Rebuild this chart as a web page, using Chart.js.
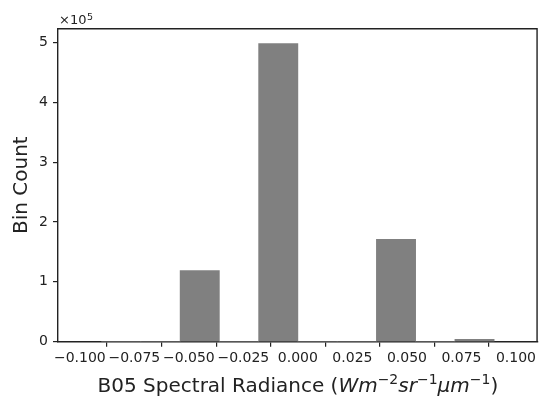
<!DOCTYPE html>
<html>
<head>
<meta charset="utf-8">
<script src="https://cdn.jsdelivr.net/npm/chart.js@4.4.0/dist/chart.umd.min.js"></script>
<style>
  html, body { margin: 0; padding: 0; background: #fff; }
</style>
</head>
<body>
<canvas id="hist" width="539" height="398"></canvas>
<script>
// Histogram bins (centres, width 0.018) and their counts
const binCenters = [-0.081, -0.063, -0.045, -0.027, -0.009, 0.009, 0.027, 0.045, 0.063, 0.081];
const binCounts = [0, 0, 119000, 0, 498000, 0, 0, 171000, 0, 4000];

// Axis limits / ticks / labels
const xRange = [-0.11, 0.11];
const xTicks = [-0.1, -0.075, -0.05, -0.025, 0, 0.025, 0.05, 0.075, 0.1];
const yMax = 522900;
const yTicks = [0, 100000, 200000, 300000, 400000, 500000];
const yTitle = 'Bin Count';
const xTitleParts = [
  { t: 'B05 Spectral Radiance (', style: '' },
  { t: 'Wm', style: 'italic' },
  { t: '\u22122', style: 'sup' },
  { t: 'sr', style: 'italic' },
  { t: '\u22121', style: 'sup' },
  { t: '\u03bcm', style: 'italic' },
  { t: '\u22121', style: 'sup' },
  { t: ')', style: '' }
];

const FONT = "'DejaVu Sans', sans-serif";
const INK = '#222';

// Draws the top/right frame, the x title with math and the x10^5 offset text
const extras = {
  id: 'extras',
  afterDraw(chart) {
    const { ctx, chartArea: a } = chart;
    ctx.save();
    ctx.strokeStyle = INK;
    ctx.lineWidth = 1.4;
    ctx.beginPath();
    ctx.moveTo(a.left, a.top);
    ctx.lineTo(a.right - 0.7, a.top);
    ctx.lineTo(a.right - 0.7, a.bottom);
    ctx.stroke();

    ctx.fillStyle = INK;
    ctx.textBaseline = 'alphabetic';
    ctx.textAlign = 'left';

    // x title
    const fontFor = s => s === 'italic' ? 'italic 20px ' + FONT : s === 'sup' ? '14px ' + FONT : '20px ' + FONT;
    let total = 0;
    xTitleParts.forEach(p => { ctx.font = fontFor(p.style); total += ctx.measureText(p.t).width; });
    let x = (a.left + a.right) / 2 - total / 2;
    const base = 391.5;
    xTitleParts.forEach(p => {
      ctx.font = fontFor(p.style);
      ctx.fillText(p.t, x, p.style === 'sup' ? base - 8 : base);
      x += ctx.measureText(p.t).width;
    });

    // offset text
    ctx.font = '13px ' + FONT;
    ctx.fillText('\u00d710', a.left + 1, 24);
    const w = ctx.measureText('\u00d710').width;
    ctx.font = '9.5px ' + FONT;
    ctx.fillText('5', a.left + 1 + w + 0.5, 19.5);
    ctx.restore();
  }
};

const ctx = document.getElementById('hist').getContext('2d');
const histChart = new Chart(ctx, {
  type: 'bar',
  data: {
    datasets: [{
      data: binCenters.map((c, i) => ({ x: c, y: binCounts[i] })),
      backgroundColor: '#808080',
      borderWidth: 0,
      barPercentage: 1,
      categoryPercentage: 1
    }]
  },
  options: {
    responsive: false,
    animation: false,
    layout: { padding: { left: 10, top: 28.7, right: 0, bottom: 0 } },
    plugins: { legend: { display: false }, tooltip: { enabled: false } },
    scales: {
      x: {
        type: 'linear',
        bounds: 'data',
        offset: false,
        min: xRange[0],
        max: xRange[1],
        grid: { display: true, drawOnChartArea: false, drawTicks: true, tickLength: 5, color: INK, lineWidth: 1.2 },
        border: { display: true, color: INK, width: 1.4 },
        ticks: {
          autoSkip: false,
          maxRotation: 0,
          padding: 3,
          color: INK,
          font: { family: FONT, size: 14 },
          callback: v => {
            const s = Math.abs(v).toFixed(3);
            return v < -1e-9 ? '\u2212' + s : s;
          }
        },
        afterBuildTicks: scale => { scale.ticks = xTicks.map(v => ({ value: v })); },
        afterFit: scale => { scale.height = 56.3; }
      },
      y: {
        bounds: 'data',
        min: 0,
        max: yMax,
        grid: { display: true, drawOnChartArea: false, drawTicks: true, tickLength: 5, color: INK, lineWidth: 1.2 },
        border: { display: true, color: INK, width: 1.4 },
        ticks: {
          padding: 5,
          color: INK,
          font: { family: FONT, size: 14 },
          callback: v => String(Math.round(v / 1e5))
        },
        afterBuildTicks: scale => { scale.ticks = yTicks.map(v => ({ value: v })); },
        title: {
          display: true,
          text: yTitle,
          color: INK,
          padding: 0,
          font: { family: FONT, size: 20 }
        },
        afterFit: scale => { scale.width = 48; }
      }
    }
  },
  plugins: [extras]
});
</script>
</body>
</html>
